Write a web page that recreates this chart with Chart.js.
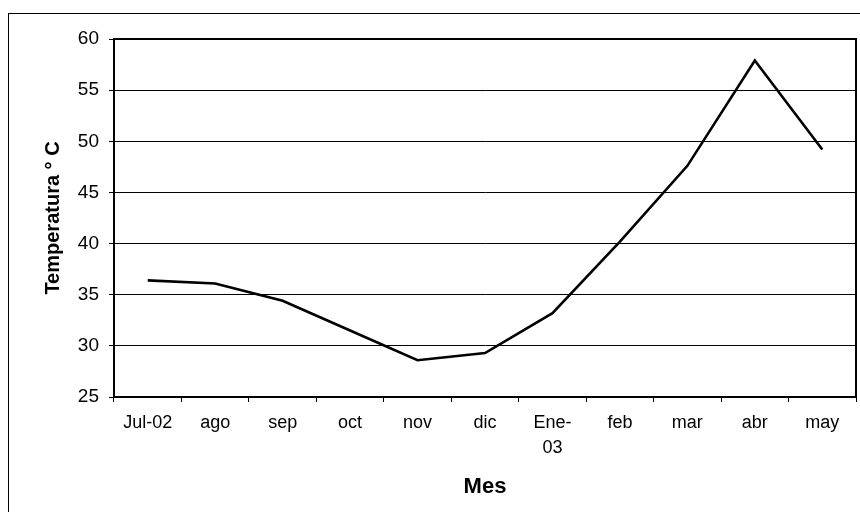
<!DOCTYPE html>
<html>
<head>
<meta charset="utf-8">
<script src="https://cdn.jsdelivr.net/npm/chart.js@4/dist/chart.umd.min.js"></script>
<style>
  body { margin: 0; background: #fff; }
  #wrap { position: relative; width: 860px; height: 512px; overflow: hidden; }
  #frame { position: absolute; left: 8px; top: 13px; width: 900px; height: 600px;
           border-left: 1.5px solid #000; border-top: 1.5px solid #000; }
  canvas { position: absolute; left: 0; top: 0; }
</style>
</head>
<body>
<div id="wrap">
  <div id="frame"></div>
  <canvas id="tempChart" width="860" height="512"></canvas>
</div>
<script>
// Temperatura mensual, jul-02 a may-03
const meses = ['Jul-02', 'ago', 'sep', 'oct', 'nov', 'dic', ['Ene-', '03'], 'feb', 'mar', 'abr', 'may'];
const temperaturas = [36.4, 36.1, 34.4, 31.5, 28.6, 29.3, 33.2, 40.2, 47.6, 57.9, 49.2];
const yTicks = [25, 30, 35, 40, 45, 50, 55, 60];

// marco negro alrededor del area de trazado
const plotBorder = {
    id: 'plotBorder',
    afterDraw(chart) {
        const a = chart.chartArea;
        const ctx = chart.ctx;
        ctx.save();
        ctx.strokeStyle = '#000';
        ctx.lineWidth = 2;
        ctx.strokeRect(a.left, a.top, a.right - a.left, a.bottom - a.top);
        ctx.restore();
    }
};

document.addEventListener('DOMContentLoaded', function() {
    const ctx = document.getElementById('tempChart').getContext('2d');
    new Chart(ctx, {
        type: 'line',
        data: {
            labels: meses,
            datasets: [{
                label: 'Temperatura',
                data: temperaturas,
                borderColor: '#000',
                borderWidth: 2.6,
                pointRadius: 0,
                tension: 0,
                fill: false
            }]
        },
        options: {
            responsive: false,
            animation: false,
            layout: { padding: { top: 39, right: 4, left: 0, bottom: 0 } },
            plugins: { legend: { display: false }, tooltip: { enabled: false } },
            scales: {
                x: {
                    offset: true,
                    grid: { drawOnChartArea: false, drawTicks: true, tickLength: 5, color: '#000', lineWidth: 1, offset: true },
                    border: { color: '#000', width: 2 },
                    ticks: {
                        color: '#000', padding: 8, maxRotation: 0, autoSkip: false,
                        font: { family: 'Liberation Sans, Arial, sans-serif', size: 18, lineHeight: 1.4 }
                    },
                    title: {
                        display: true, text: 'Mes', color: '#000',
                        padding: { top: 0, bottom: 12 },
                        font: { family: 'Liberation Sans, Arial, sans-serif', size: 22, weight: 'bold' }
                    },
                    afterFit: function(scale) { scale.height = 115; }
                },
                y: {
                    min: 25,
                    max: 60,
                    afterBuildTicks: function(scale) { scale.ticks = yTicks.map(v => ({ value: v })); },
                    grid: { color: '#000', lineWidth: 1, tickLength: 5 },
                    border: { color: '#000', width: 2 },
                    ticks: {
                        color: '#000', padding: 10,
                        font: { family: 'Liberation Sans, Arial, sans-serif', size: 19 }
                    },
                    title: {
                        display: true, text: 'Temperatura ° C', color: '#000',
                        padding: { top: 41, bottom: 0 },
                        font: { family: 'Liberation Sans, Arial, sans-serif', size: 20, weight: 'bold' }
                    },
                    afterFit: function(scale) { scale.width = 114; }
                }
            }
        },
        plugins: [plotBorder]
    });
});
</script>
</body>
</html>
